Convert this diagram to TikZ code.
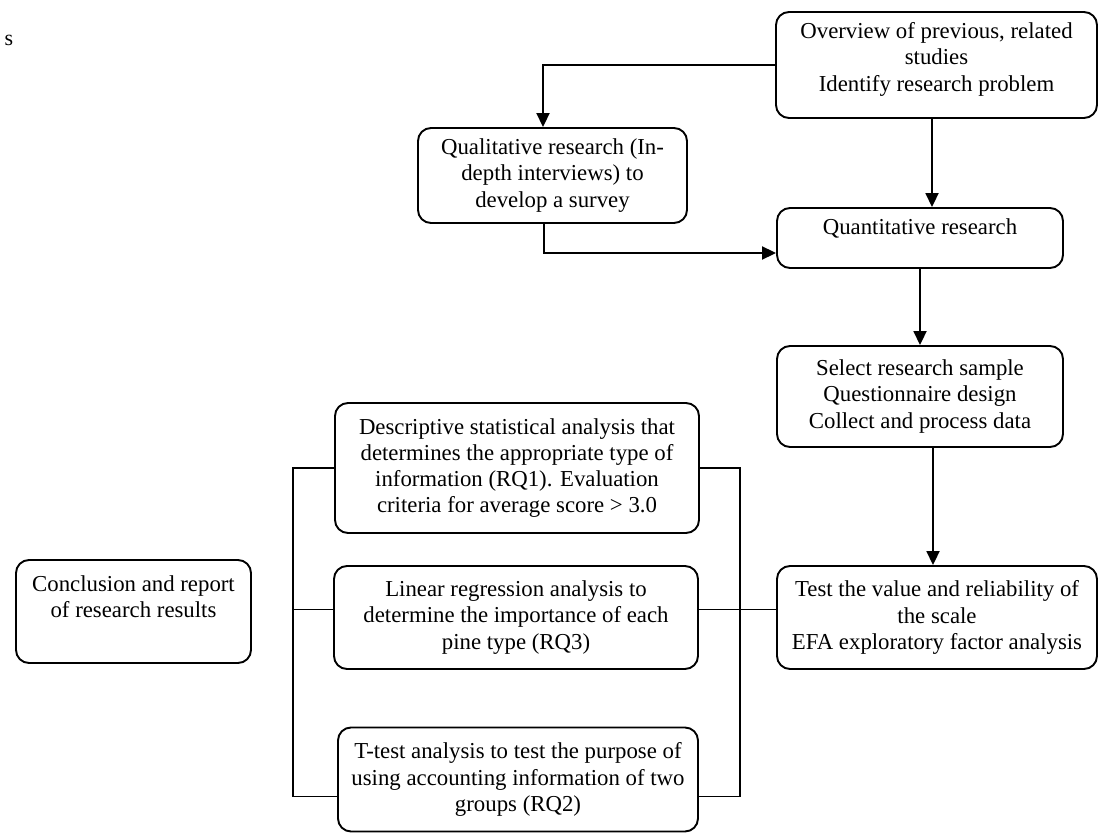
\documentclass[tikz,border=0pt]{standalone}
\usepackage{fontspec}
\setmainfont{Liberation Serif}
\usetikzlibrary{arrows.meta}
\newcommand\diagfont{\fontsize{22.8pt}{26.3pt}\selectfont}
\tikzset{
  box/.style={draw, line width=1.9pt, rounded corners=13pt, align=center, inner sep=0pt, font=\diagfont},
  ln/.style={line width=1.9pt},
  arr/.style={line width=1.9pt, -{Triangle[length=14pt,width=13pt]}},
}
\begin{document}
\begin{tikzpicture}[x=1pt,y=-1pt]
\path[fill=white] (0,0) rectangle (1099,834);
\useasboundingbox (0,0) rectangle (1099,834);

\node[font=\fontsize{22pt}{24pt}\selectfont] (mark) at (9,40) {s};

\node[box, minimum width=321pt, minimum height=106pt] (top) at (936.5,65)
  {Overview of previous, related\\studies\\Identify research problem\\[-10pt]\mbox{}};
\node[box, minimum width=269pt, minimum height=95pt] (qual) at (552.5,175.5)
  {Qualitative research (In-\\depth interviews) to\\develop a survey};
\node[box, minimum width=286pt, minimum height=60pt] (quant) at (920,238)
  {Quantitative research\\[-4pt]\mbox{}};
\node[box, minimum width=286pt, minimum height=101pt] (select) at (920,396.5)
  {Select research sample\\Questionnaire design\\Collect and process data};
\node[box, minimum width=320pt, minimum height=103pt] (test) at (937,617.5)
  {Test the value and reliability of\\the scale\\EFA exploratory factor analysis};
\node[box, minimum width=364pt, minimum height=130pt] (desc) at (517,468)
  {Descriptive statistical analysis that\\determines the appropriate type of\\information (RQ1). Evaluation\\criteria for average score > 3.0};
\node[box, minimum width=364pt, minimum height=103pt] (lin) at (516,617.5)
  {Linear regression analysis to\\determine the importance of each\\pine type (RQ3)};
\node[box, minimum width=360pt, minimum height=104pt] (ttest) at (518,779.5)
  {T-test analysis to test the purpose of\\using accounting information of two\\groups (RQ2)};
\node[box, minimum width=235pt, minimum height=103pt] (concl) at (133.5,611.5)
  {Conclusion and report\\of research results\\[4pt]\mbox{}};

\coordinate (lx) at (293,0);
\coordinate (rx) at (740,0);
\coordinate (linw) at ([yshift=8pt]lin.west);

% arrows
\draw[arr] (top.west) -| ([xshift=-9.5pt]qual.north);
\draw[arr] ([xshift=-4.5pt]top.south) -- ([xshift=12pt]quant.north);
\draw[arr] ([xshift=-8.5pt]qual.south) |- ([yshift=-15pt]quant.west);
\draw[arr] (quant.south) -- (select.north);
\draw[arr] ([xshift=13pt]select.south) -- ([xshift=-4pt]test.north);

% bracket lines
\draw[ln] (desc.west) -- (lx |- desc.west) |- ([yshift=-17pt]ttest.west);
\draw[ln] (desc.east) -- (rx |- desc.east) |- ([yshift=-17pt]ttest.east);
\draw[ln] (linw) -- (lx |- linw);
\draw[ln] ([yshift=8pt]lin.east) -- ([yshift=8pt]test.west);
\end{tikzpicture}
\end{document}
